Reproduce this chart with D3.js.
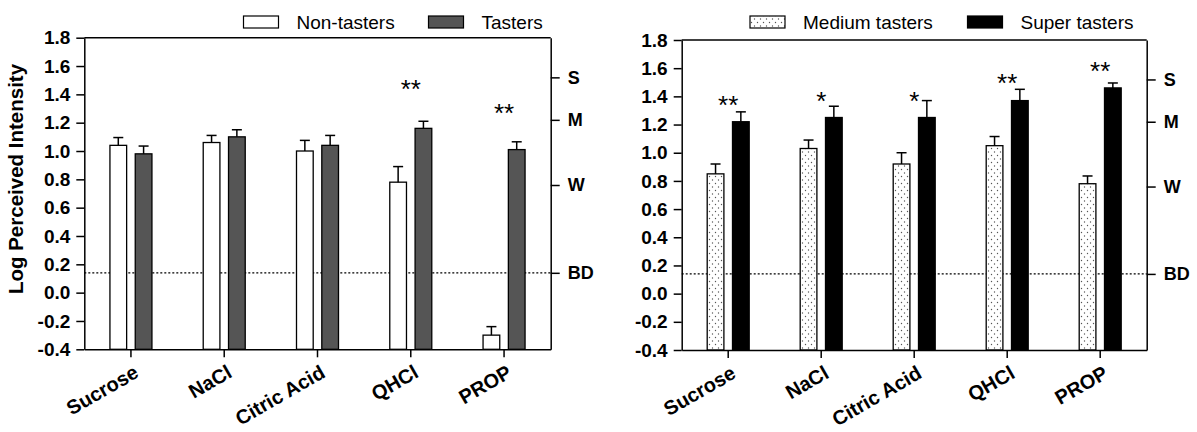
<!DOCTYPE html>
<html>
<head>
<meta charset="utf-8">
<script src="https://cdn.jsdelivr.net/npm/d3@7"></script>
<style>
body{margin:0;background:#fff;}
svg{display:block;font-family:"Liberation Sans",Arial,sans-serif;}
.axis .domain,.axis line{stroke:#000;stroke-width:1.5;}
.axis text{font-weight:bold;fill:#000;}
</style>
</head>
<body>
<svg id="chart" width="1197" height="432"></svg>
<script>
// data
var categories=["Sucrose","NaCl","Citric Acid","QHCl","PROP"];
var yTicks=[-0.4,-0.2,0,0.2,0.4,0.6,0.8,1.0,1.2,1.4,1.6,1.8];
var scaleLabels=["BD","W","M","S"];
var scaleValues=[0.14,0.76,1.22,1.52];
var bdLevel=0.14;

var nonTasters=[1.04,1.06,1.00,0.78,-0.30];
var nonTastersErr=[0.055,0.05,0.075,0.11,0.06];
var tasters=[0.98,1.10,1.04,1.16,1.01];
var tastersErr=[0.055,0.05,0.07,0.05,0.055];
var sigLeft=["","","","**","**"];
var sigLeftAt=[0,0,0,1.48,1.31];

var mediumTasters=[0.85,1.03,0.92,1.05,0.78];
var mediumErr=[0.07,0.06,0.08,0.065,0.055];
var superTasters=[1.22,1.25,1.25,1.37,1.46];
var superErr=[0.07,0.08,0.12,0.08,0.035];
var sigRight=["**","*","*","**","**"];
var sigRightAt=[1.38,1.41,1.41,1.535,1.62];

var svg=d3.select('#chart');

var defs=svg.append('defs');
var pat=defs.append('pattern')
	.attr('id','dots')
	.attr('patternUnits','userSpaceOnUse')
	.attr('width',6)
	.attr('height',7);
pat.append('rect').attr('width',6).attr('height',7).attr('fill','#fff');
pat.append('circle').attr('cx',1.5).attr('cy',1.5).attr('r',0.7).attr('fill','#555');
pat.append('circle').attr('cx',4.5).attr('cy',5).attr('r',0.7).attr('fill','#555');

function drawPanel(o){
	var g=svg.append('g');

	var x=d3.scaleBand().domain(categories).range([o.left,o.right]);
	var y=d3.scaleLinear().domain([-0.4,1.8]).range([o.bottom,o.top]);
	var sub=d3.scaleBand().domain([0,1]).range([-21,21]).paddingInner(0.34);

	// dotted BD line
	g.append('line')
		.attr('x1',o.left).attr('x2',o.right)
		.attr('y1',y(bdLevel)).attr('y2',y(bdLevel))
		.attr('stroke','#000')
		.attr('stroke-width',1.2)
		.attr('stroke-dasharray','2,2');

	o.series.forEach(function(s,i){
		var cx=function(c){return x(c)+x.bandwidth()/2+sub(i);};
		g.selectAll('.bar'+i)
			.data(categories)
			.enter()
			.append('rect')
			.attr('x',function(c){return cx(c)})
			.attr('y',function(c,j){return y(s.values[j])})
			.attr('width',sub.bandwidth())
			.attr('height',function(c,j){return y(-0.4)-y(s.values[j])})
			.attr('fill',s.fill)
			.attr('stroke','#000')
			.attr('stroke-width',1.3);
		//error bars, upper only
		var eb=g.selectAll('.err'+i)
			.data(categories)
			.enter()
			.append('g')
			.attr('stroke','#000')
			.attr('stroke-width',1.5);
		eb.append('line')
			.attr('x1',function(c){return cx(c)+sub.bandwidth()/2})
			.attr('x2',function(c){return cx(c)+sub.bandwidth()/2})
			.attr('y1',function(c,j){return y(s.values[j])})
			.attr('y2',function(c,j){return y(s.values[j]+s.err[j])});
		eb.append('line')
			.attr('x1',function(c){return cx(c)+sub.bandwidth()/2-5})
			.attr('x2',function(c){return cx(c)+sub.bandwidth()/2+5})
			.attr('y1',function(c,j){return y(s.values[j]+s.err[j])})
			.attr('y2',function(c,j){return y(s.values[j]+s.err[j])});
	});

	// significance stars
	g.selectAll('.sig')
		.data(categories)
		.enter()
		.append('text')
		.attr('x',function(c){return x(c)+x.bandwidth()/2})
		.attr('y',function(c,j){return y(o.sigAt[j])+15})
		.attr('text-anchor','middle')
		.style('font-size','26px')
		.text(function(c,j){return o.sig[j]});

	// axes
	g.append('line')
		.attr('x1',o.left).attr('x2',o.right)
		.attr('y1',o.top).attr('y2',o.top)
		.attr('stroke','#000').attr('stroke-width',1.5);

	var yAxis=d3.axisLeft(y)
		.tickValues(yTicks)
		.tickFormat(function(d){return d.toFixed(1)})
		.tickSize(8)
		.tickPadding(6)
		.tickSizeOuter(0);
	g.append('g')
		.attr('class','axis')
		.attr('transform','translate('+o.left+',0)')
		.call(yAxis)
		.selectAll('text').style('font-size','19px');

	var rAxis=d3.axisRight(y)
		.tickValues(scaleValues)
		.tickFormat(function(d,i){return scaleLabels[i]})
		.tickSize(9)
		.tickPadding(8)
		.tickSizeOuter(0);
	g.append('g')
		.attr('class','axis')
		.attr('transform','translate('+o.right+',0)')
		.call(rAxis)
		.selectAll('text').style('font-size','18px');

	var xAxis=d3.axisBottom(x)
		.tickSize(8)
		.tickSizeOuter(0);
	g.append('g')
		.attr('class','axis')
		.attr('transform','translate(0,'+o.bottom+')')
		.call(xAxis)
		.selectAll('text')
		.style('font-size','20px')
		.attr('text-anchor','end')
		.attr('x',0).attr('y',0).attr('dy',0)
		.attr('transform','translate(9,27) rotate(-30)');

	// legend
	o.series.forEach(function(s,i){
		g.append('rect')
			.attr('x',o.legendX[i]).attr('y',16)
			.attr('width',35).attr('height',12)
			.attr('fill',s.fill)
			.attr('stroke','#000')
			.attr('stroke-width',1.2);
		g.append('text')
			.attr('x',o.legendX[i]+53).attr('y',28.5)
			.style('font-size','19px')
			.text(s.name);
	});
	return g;
}

drawPanel({
	left:84.3,right:550.7,top:37.7,bottom:349.3,
	legendX:[243.5,428.5],
	sig:sigLeft,sigAt:sigLeftAt,
	series:[
		{name:'Non-tasters',values:nonTasters,err:nonTastersErr,fill:'#fff'},
		{name:'Tasters',values:tasters,err:tastersErr,fill:'#555'}
	]
});

drawPanel({
	left:681.7,right:1146.7,top:40,bottom:350,
	legendX:[750,967.5],
	sig:sigRight,sigAt:sigRightAt,
	series:[
		{name:'Medium tasters',values:mediumTasters,err:mediumErr,fill:'url(#dots)'},
		{name:'Super tasters',values:superTasters,err:superErr,fill:'#000'}
	]
});

svg.append('text')
	.attr('transform','translate(23,179) rotate(-90)')
	.attr('text-anchor','middle')
	.style('font-size','20.5px')
	.style('font-weight','bold')
	.text('Log Perceived Intensity');
</script>
</body>
</html>
